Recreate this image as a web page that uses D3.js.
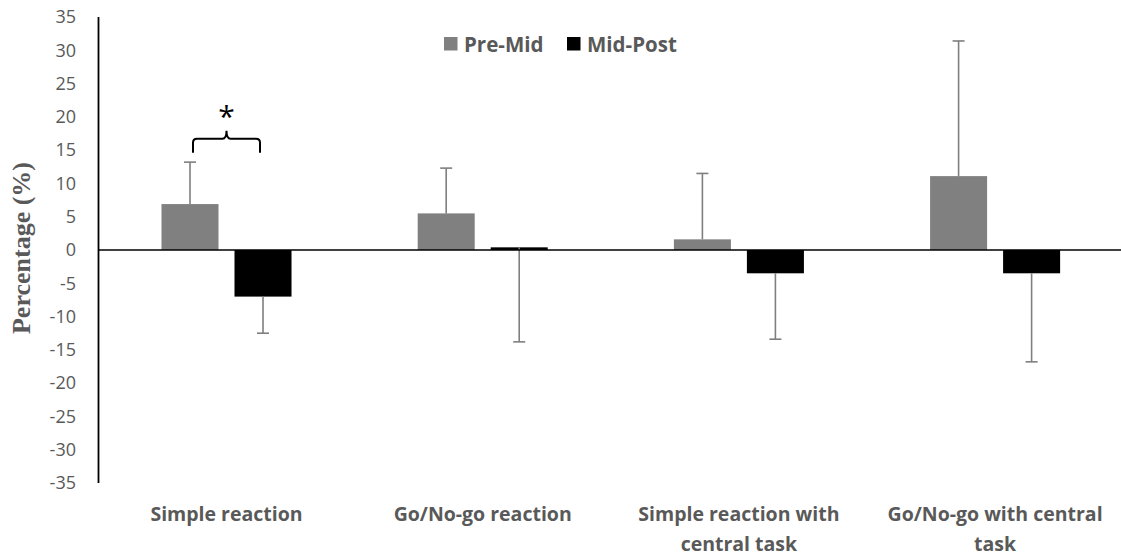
<!DOCTYPE html>
<html>
<head>
<meta charset="utf-8">
<script src="https://cdn.jsdelivr.net/npm/d3@7/dist/d3.min.js"></script>
<style>
  html, body { margin: 0; padding: 0; background: #fff; }
  svg { display: block; }
</style>
</head>
<body>
<svg id="chart" width="1121" height="558"></svg>
<script>
// Task categories (each label split into its display lines)
const categories = [
  ["Simple reaction"],
  ["Go/No-go reaction"],
  ["Simple reaction with", "central task"],
  ["Go/No-go with central", "task"]
];
const seriesNames = ["Pre-Mid", "Mid-Post"];

// Mean percentage change per category
const preMid = [6.9, 5.5, 1.6, 11.1];
const midPost = [-7.0, 0.4, -3.5, -3.5];

// Standard deviations (drawn one-sided: up for Pre-Mid, down for Mid-Post)
const preMidSD = [6.3, 6.8, 9.9, 20.3];
const midPostSD = [5.5, 14.2, 9.9, 13.3];

const yTicks = [35, 30, 25, 20, 15, 10, 5, 0, -5, -10, -15, -20, -25, -30, -35];

const colors = { "Pre-Mid": "#808080", "Mid-Post": "#000000" };
const labelColor = "#595959";
const sansFont = "'Open Sans', 'Noto Sans', sans-serif";

const svg = d3.select("#chart");
const catKeys = categories.map(c => c.join(" "));

const x0 = d3.scaleBand().domain(catKeys).range([98.4, 1123.2]).paddingInner(0).paddingOuter(0);
const x1 = d3.scaleBand().domain(seriesNames).range([0, x0.bandwidth()])
  .paddingInner(0.219).paddingOuter(0.864);
const y = d3.scaleLinear().domain([-35, 35]).range([483, 17]);

const rows = [];
catKeys.forEach((c, i) => {
  rows.push({ cat: c, s: "Pre-Mid", v: preMid[i], sd: preMidSD[i], dir: 1 });
  rows.push({ cat: c, s: "Mid-Post", v: midPost[i], sd: midPostSD[i], dir: -1 });
});

// Bars
svg.append("g").selectAll("rect").data(rows).join("rect")
  .attr("x", d => x0(d.cat) + x1(d.s))
  .attr("width", x1.bandwidth())
  .attr("y", d => y(Math.max(0, d.v)))
  .attr("height", d => Math.abs(y(d.v) - y(0)))
  .attr("fill", d => colors[d.s]);

// Error bars
const eb = svg.append("g").attr("stroke", "#7f7f7f").attr("stroke-width", 1.6).attr("fill", "none");
rows.forEach(d => {
  const cx = x0(d.cat) + x1(d.s) + x1.bandwidth() / 2;
  const yEnd = y(d.v + d.dir * d.sd);
  eb.append("line").attr("x1", cx).attr("x2", cx).attr("y1", y(d.v)).attr("y2", yEnd);
  eb.append("line").attr("x1", cx - 6).attr("x2", cx + 6).attr("y1", yEnd).attr("y2", yEnd);
});

// Y axis (labels only, with a plain vertical line)
const yAxis = d3.axisLeft(y).tickValues(yTicks).tickSize(0).tickPadding(0).tickFormat(d => String(d));
const gy = svg.append("g").attr("transform", "translate(76,0)").call(yAxis);
gy.select(".domain").remove();
gy.selectAll("text")
  .attr("fill", labelColor)
  .style("font-family", sansFont)
  .style("font-size", "18px");
svg.append("line").attr("x1", 98.5).attr("x2", 98.5).attr("y1", y(35)).attr("y2", y(-35))
  .attr("stroke", "#000").attr("stroke-width", 1.8);

// Zero line
svg.append("line").attr("x1", 98.5).attr("x2", 1121).attr("y1", y(0)).attr("y2", y(0))
  .attr("stroke", "#000").attr("stroke-width", 1.6);

// Category labels
const gx = svg.append("g");
categories.forEach((lines, i) => {
  const cx = x0(catKeys[i]) + x0.bandwidth() / 2;
  const t = gx.append("text")
    .attr("x", cx).attr("y", 521)
    .attr("text-anchor", "middle")
    .attr("fill", labelColor)
    .style("font-family", sansFont)
    .style("font-weight", "bold")
    .style("font-size", "19.5px");
  lines.forEach((ln, j) => {
    t.append("tspan").attr("x", cx).attr("dy", j === 0 ? 0 : 30).text(ln);
  });
});

// Y axis title
svg.append("text")
  .attr("transform", `translate(30,${y(0) - 2}) rotate(-90)`)
  .attr("text-anchor", "middle")
  .attr("fill", labelColor)
  .style("font-family", "'Liberation Serif', 'DejaVu Serif', serif")
  .style("font-weight", "bold")
  .style("font-size", "26px")
  .text("Percentage (%)");

// Legend
const legend = svg.append("g");
const legendX = [444, 567];
seriesNames.forEach((s, i) => {
  legend.append("rect").attr("x", legendX[i]).attr("y", 37).attr("width", 13.5).attr("height", 13.5)
    .attr("fill", colors[s]);
  legend.append("text").attr("x", legendX[i] + 20).attr("y", 51.5)
    .attr("fill", labelColor)
    .style("font-family", sansFont)
    .style("font-weight", "bold")
    .style("font-size", "20.5px")
    .text(s);
});

// Significance bracket between the two Simple reaction bars
const c0 = catKeys[0];
const bl = x0(c0) + x1("Pre-Mid") + x1.bandwidth() / 2 + 3;
const br = x0(c0) + x1("Mid-Post") + x1.bandwidth() / 2 - 3;
const bm = (bl + br) / 2;
const yEnd = y(14.6), yTop = y(16.7), yPeak = y(17.9);
const r = 4;
const bracePath = [
  `M${bl},${yEnd}`,
  `L${bl},${yTop + r}`,
  `Q${bl},${yTop} ${bl + r},${yTop}`,
  `L${bm - r},${yTop}`,
  `Q${bm},${yTop} ${bm},${yPeak}`,
  `Q${bm},${yTop} ${bm + r},${yTop}`,
  `L${br - r},${yTop}`,
  `Q${br},${yTop} ${br},${yTop + r}`,
  `L${br},${yEnd}`
].join(" ");
svg.append("path").attr("d", bracePath).attr("fill", "none").attr("stroke", "#000").attr("stroke-width", 2);
svg.append("text").attr("x", bm).attr("y", yPeak - 4)
  .attr("text-anchor", "middle")
  .attr("fill", "#000")
  .style("font-family", sansFont)
  .style("font-size", "30px")
  .text("*");
</script>
</body>
</html>
